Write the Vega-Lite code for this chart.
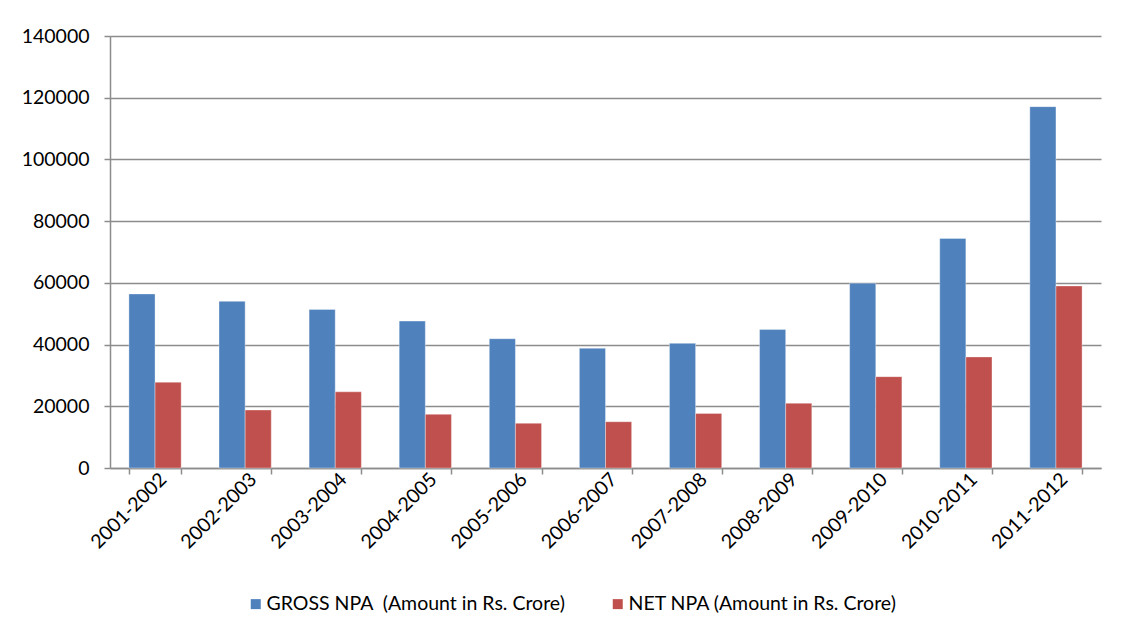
{
  "$schema": "https://vega.github.io/schema/vega-lite/v6.json",
  "width": 991,
  "height": 432,
  "autosize": "none",
  "padding": {"left": 110, "top": 36, "right": 21, "bottom": 172},
  "background": "white",
  "data": {
    "values": [
      {"year": "2001-2002", "series": "GROSS NPA\u00a0 (Amount in Rs. Crore)", "amount": 56400},
      {"year": "2001-2002", "series": "NET NPA (Amount in Rs. Crore)", "amount": 27800},
      {"year": "2002-2003", "series": "GROSS NPA\u00a0 (Amount in Rs. Crore)", "amount": 54000},
      {"year": "2002-2003", "series": "NET NPA (Amount in Rs. Crore)", "amount": 18800},
      {"year": "2003-2004", "series": "GROSS NPA\u00a0 (Amount in Rs. Crore)", "amount": 51400},
      {"year": "2003-2004", "series": "NET NPA (Amount in Rs. Crore)", "amount": 24700},
      {"year": "2004-2005", "series": "GROSS NPA\u00a0 (Amount in Rs. Crore)", "amount": 47600},
      {"year": "2004-2005", "series": "NET NPA (Amount in Rs. Crore)", "amount": 17400},
      {"year": "2005-2006", "series": "GROSS NPA\u00a0 (Amount in Rs. Crore)", "amount": 41900},
      {"year": "2005-2006", "series": "NET NPA (Amount in Rs. Crore)", "amount": 14500},
      {"year": "2006-2007", "series": "GROSS NPA\u00a0 (Amount in Rs. Crore)", "amount": 38800},
      {"year": "2006-2007", "series": "NET NPA (Amount in Rs. Crore)", "amount": 15000},
      {"year": "2007-2008", "series": "GROSS NPA\u00a0 (Amount in Rs. Crore)", "amount": 40400},
      {"year": "2007-2008", "series": "NET NPA (Amount in Rs. Crore)", "amount": 17700},
      {"year": "2008-2009", "series": "GROSS NPA\u00a0 (Amount in Rs. Crore)", "amount": 44900},
      {"year": "2008-2009", "series": "NET NPA (Amount in Rs. Crore)", "amount": 21000},
      {"year": "2009-2010", "series": "GROSS NPA\u00a0 (Amount in Rs. Crore)", "amount": 59900},
      {"year": "2009-2010", "series": "NET NPA (Amount in Rs. Crore)", "amount": 29600},
      {"year": "2010-2011", "series": "GROSS NPA\u00a0 (Amount in Rs. Crore)", "amount": 74400},
      {"year": "2010-2011", "series": "NET NPA (Amount in Rs. Crore)", "amount": 36000},
      {"year": "2011-2012", "series": "GROSS NPA\u00a0 (Amount in Rs. Crore)", "amount": 117100},
      {"year": "2011-2012", "series": "NET NPA (Amount in Rs. Crore)", "amount": 59000}
    ]
  },
  "mark": {"type": "bar", "stroke": "white", "strokeOpacity": 0.35, "strokeWidth": 1},
  "encoding": {
    "x": {
      "field": "year",
      "type": "nominal",
      "sort": null,
      "scale": {"paddingInner": 0.42, "paddingOuter": 0.21},
      "axis": {
        "title": null,
        "grid": false,
        "domainColor": "#8c8c8c",
        "domainWidth": 1.5,
        "tickColor": "#8c8c8c",
        "tickWidth": 1.5,
        "tickSize": 6,
        "tickBand": "extent",
        "labelAngle": -45,
        "labelAlign": "right",
        "labelBaseline": "middle",
        "labelPadding": 2,
        "labelOffset": 8,
        "labelFont": "Lato",
        "labelFontSize": 19.5,
        "labelColor": "#000000"
      }
    },
    "xOffset": {"field": "series", "sort": null, "scale": {"paddingInner": 0, "paddingOuter": 0}},
    "y": {
      "field": "amount",
      "type": "quantitative",
      "scale": {"domain": [0, 140000], "nice": false},
      "axis": {
        "title": null,
        "values": [0, 20000, 40000, 60000, 80000, 100000, 120000, 140000],
        "format": "d",
        "grid": true,
        "gridColor": "#8c8c8c",
        "gridWidth": 1.5,
        "domainColor": "#8c8c8c",
        "domainWidth": 1.5,
        "tickColor": "#8c8c8c",
        "tickWidth": 1.5,
        "tickSize": 6,
        "labelPadding": 15,
        "labelFont": "Lato",
        "labelFontSize": 19.5,
        "labelColor": "#000000"
      }
    },
    "color": {
      "field": "series",
      "type": "nominal",
      "sort": null,
      "scale": {"range": ["#4F81BD", "#C0504D"]},
      "legend": {
        "title": null,
        "orient": "none",
        "direction": "horizontal",
        "legendX": 136,
        "legendY": 558,
        "symbolType": "square",
        "symbolSize": 100,
        "symbolStrokeWidth": 0,
        "labelOffset": 1,
        "labelLimit": 0,
        "columnPadding": 43,
        "labelFont": "Lato",
        "labelFontSize": 19.5,
        "labelColor": "#000000"
      }
    }
  },
  "config": {"view": {"stroke": null}}
}
